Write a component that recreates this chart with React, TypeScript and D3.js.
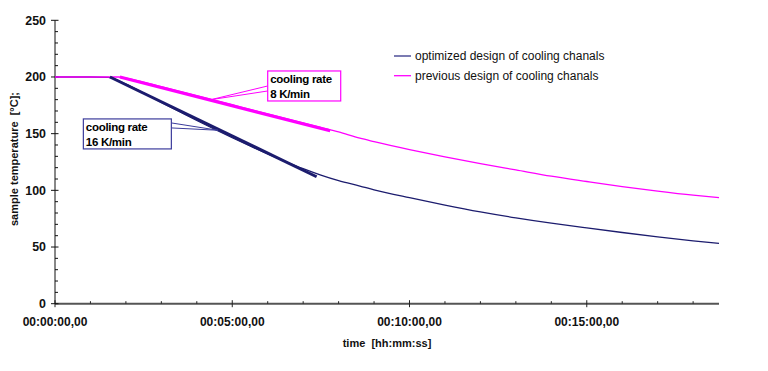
import * as d3 from "d3";
import React from "react";

// time in minutes, temperatures in °C
const timeMin = [0, 1, 1.5, 2, 2.5, 3, 3.5, 4, 4.5, 5, 5.5, 6, 6.5, 7, 7.5, 8, 8.6, 9, 10, 11, 12, 13, 14, 15, 16, 17, 18, 18.73];
const optimizedTemp = [200, 200, 199.6, 193.8, 185.8, 177.6, 169.6, 161.6, 153.9, 146.4, 139.1, 132.1, 125.4, 119.1, 113.4, 108.5, 103.8, 100.5, 93.5, 87, 81, 75.7, 71, 66.8, 62.8, 59, 55.5, 53.2];
const prevTimeMin = [0, 1, 1.8, 2, 2.5, 3, 3.5, 4, 4.5, 5, 5.5, 6, 6.5, 7, 7.5, 8, 8.6, 9, 10, 11, 12, 13, 14, 15, 16, 17, 18, 18.73];
const previousTemp = [200, 200, 200, 199, 195.5, 191.5, 187.5, 183.5, 179.5, 175.5, 171.5, 167.5, 163.5, 159.5, 155.5, 151.5, 146, 143, 136, 129.5, 123.5, 118, 112.5, 107.8, 103.3, 99.3, 95.7, 93.5];

// fitted cooling-rate lines
const optimizedFitTime = [1.55, 7.38];
const optimizedFitTemp = [200, 112];
const previousFitTime = [1.83, 7.76];
const previousFitTemp = [200, 152.5];

const seriesNames = ["optimized design of cooling chanals", "previous design of cooling chanals"];
const xTickLabels = ["00:00:00,00", "00:05:00,00", "00:10:00,00", "00:15:00,00"];
const xTickValues = [0, 5, 10, 15];
const yTickValues = [0, 50, 100, 150, 200, 250];

const NAVY = "#1c1c6e";
const PINK = "#ff00ff";
const FONT = "'Liberation Sans', Arial, sans-serif";

const margin = { top: 20.3, left: 55, right: 49, bottom: 67.3 };
const W = 768, H = 371;

const App = () => {
	const x = d3.scaleLinear().domain([0, 18.73]).range([margin.left, W - margin.right]);
	const y = d3.scaleLinear().domain([0, 250]).range([H - margin.bottom, margin.top]);

	const line = d3
		.line<[number, number]>()
		.x((d) => x(d[0]))
		.y((d) => y(d[1]))
		.curve(d3.curveMonotoneX);
	const straight = d3
		.line<[number, number]>()
		.x((d) => x(d[0]))
		.y((d) => y(d[1]));

	const optData = timeMin.map((t, i) => [t, optimizedTemp[i]] as [number, number]);
	const prevData = prevTimeMin.map((t, i) => [t, previousTemp[i]] as [number, number]);
	const optFit = optimizedFitTime.map((t, i) => [t, optimizedFitTemp[i]] as [number, number]);
	const prevFit = previousFitTime.map((t, i) => [t, previousFitTemp[i]] as [number, number]);

	const minorX = d3.range(0, 19, 1).filter((v) => v % 5 !== 0);
	const minorY = d3.range(0, 251, 10).filter((v) => v % 50 !== 0);
	const y0 = y(0);

	// callouts: box top-left in data units, tip on fit line
	const callouts = [
		{ lines: ["cooling rate", "8 K/min"], color: PINK, boxT: 6.0, boxV: 205.3, w: 73, h: 30, tipT: 4.4, tipV: 180, side: "left", offs: [15, 20] },
		{ lines: ["cooling rate", "16 K/min"], color: "#3c3c9c", boxT: 0.8, boxV: 163, w: 88, h: 30, tipT: 4.6, tipV: 153, side: "right", offs: [4, 9] },
	];

	return (
		<svg
			width={W}
			height={H}
			style={{ position: "absolute", left: 0, top: 0, background: "#fff" }}
			fontFamily={FONT}
		>
			{/* x axis */}
			<line x1={x(0)} x2={x(18.73)} y1={y0} y2={y0} stroke="#555" strokeWidth={2} />
			{xTickValues.map((v) => (
				<line key={"xt" + v} x1={x(v)} x2={x(v)} y1={y0 - 3.5} y2={y0 + 3.5} stroke="#222" strokeWidth={1} />
			))}
			{minorX.map((v) => (
				<line key={"xm" + v} x1={x(v)} x2={x(v)} y1={y0 - 2.5} y2={y0} stroke="#222" strokeWidth={1} />
			))}
			{xTickValues.map((v, i) => (
				<text key={"xl" + v} x={x(v)} y={326} textAnchor="middle" fontSize={12} fontWeight="bold" fill="#111">
					{xTickLabels[i]}
				</text>
			))}
			<text x={387} y={347} textAnchor="middle" fontSize={11} fontWeight="bold" fill="#111" style={{ whiteSpace: "pre" }}>
				{"time  [hh:mm:ss]"}
			</text>

			{/* y axis */}
			<line x1={x(0)} x2={x(0)} y1={y(250)} y2={y0} stroke="#111" strokeWidth={1} />
			{yTickValues.map((v) => (
				<line key={"yt" + v} x1={x(0) - 4} x2={x(0) + 3.5} y1={y(v)} y2={y(v)} stroke="#111" strokeWidth={1} />
			))}
			{minorY.map((v) => (
				<line key={"ym" + v} x1={x(0)} x2={x(0) + 3} y1={y(v)} y2={y(v)} stroke="#111" strokeWidth={1} />
			))}
			{yTickValues.map((v) => (
				<text key={"yl" + v} x={46} y={y(v) + 4.3} textAnchor="end" fontSize={12.4} fontWeight="bold" fill="#111">
					{v}
				</text>
			))}
			<text
				transform={`translate(18,159) rotate(-90)`}
				textAnchor="middle"
				fontSize={11}
				fontWeight="bold"
				fill="#111"
				style={{ whiteSpace: "pre" }}
			>
				{"sample temperature  [°C];"}
			</text>

			{/* series */}
			<path d={line(optData) ?? ""} fill="none" stroke={NAVY} strokeWidth={1.3} />
			<path d={line(prevData) ?? ""} fill="none" stroke={PINK} strokeWidth={1.3} />
			<path d={straight(optFit) ?? ""} fill="none" stroke={NAVY} strokeWidth={3} />
			<path d={straight(prevFit) ?? ""} fill="none" stroke={PINK} strokeWidth={3} />

			{/* callouts */}
			{callouts.map((c, i) => {
				const bx = x(c.boxT), by = y(c.boxV);
				const ex = c.side === "left" ? bx : bx + c.w;
				const tx = x(c.tipT), ty = y(c.tipV);
				return (
					<g key={"c" + i}>
						<polyline
							points={`${ex},${by + c.offs[0]} ${tx},${ty} ${ex},${by + c.offs[1]}`}
							fill="none"
							stroke={c.color}
							strokeWidth={1}
						/>
						<rect x={bx} y={by} width={c.w} height={c.h} fill="#fff" stroke={c.color} strokeWidth={1.2} />
						{c.lines.map((s, j) => (
							<text key={j} x={bx + 2.5} y={by + 12.5 + j * 14.5} fontSize={11.5} fontWeight="bold" letterSpacing={-0.3} fill="#000">
								{s}
							</text>
						))}
					</g>
				);
			})}

			{/* legend */}
			{seriesNames.map((name, i) => (
				<g key={"lg" + i} transform={`translate(394,${56 + i * 19.7})`}>
					<line x1={0} x2={17} y1={0} y2={0} stroke={i === 0 ? "#333388" : PINK} strokeWidth={1.3} />
					<text x={21} y={4.3} fontSize={12} fill="#111">
						{name}
					</text>
				</g>
			))}
		</svg>
	);
};

export default App;
